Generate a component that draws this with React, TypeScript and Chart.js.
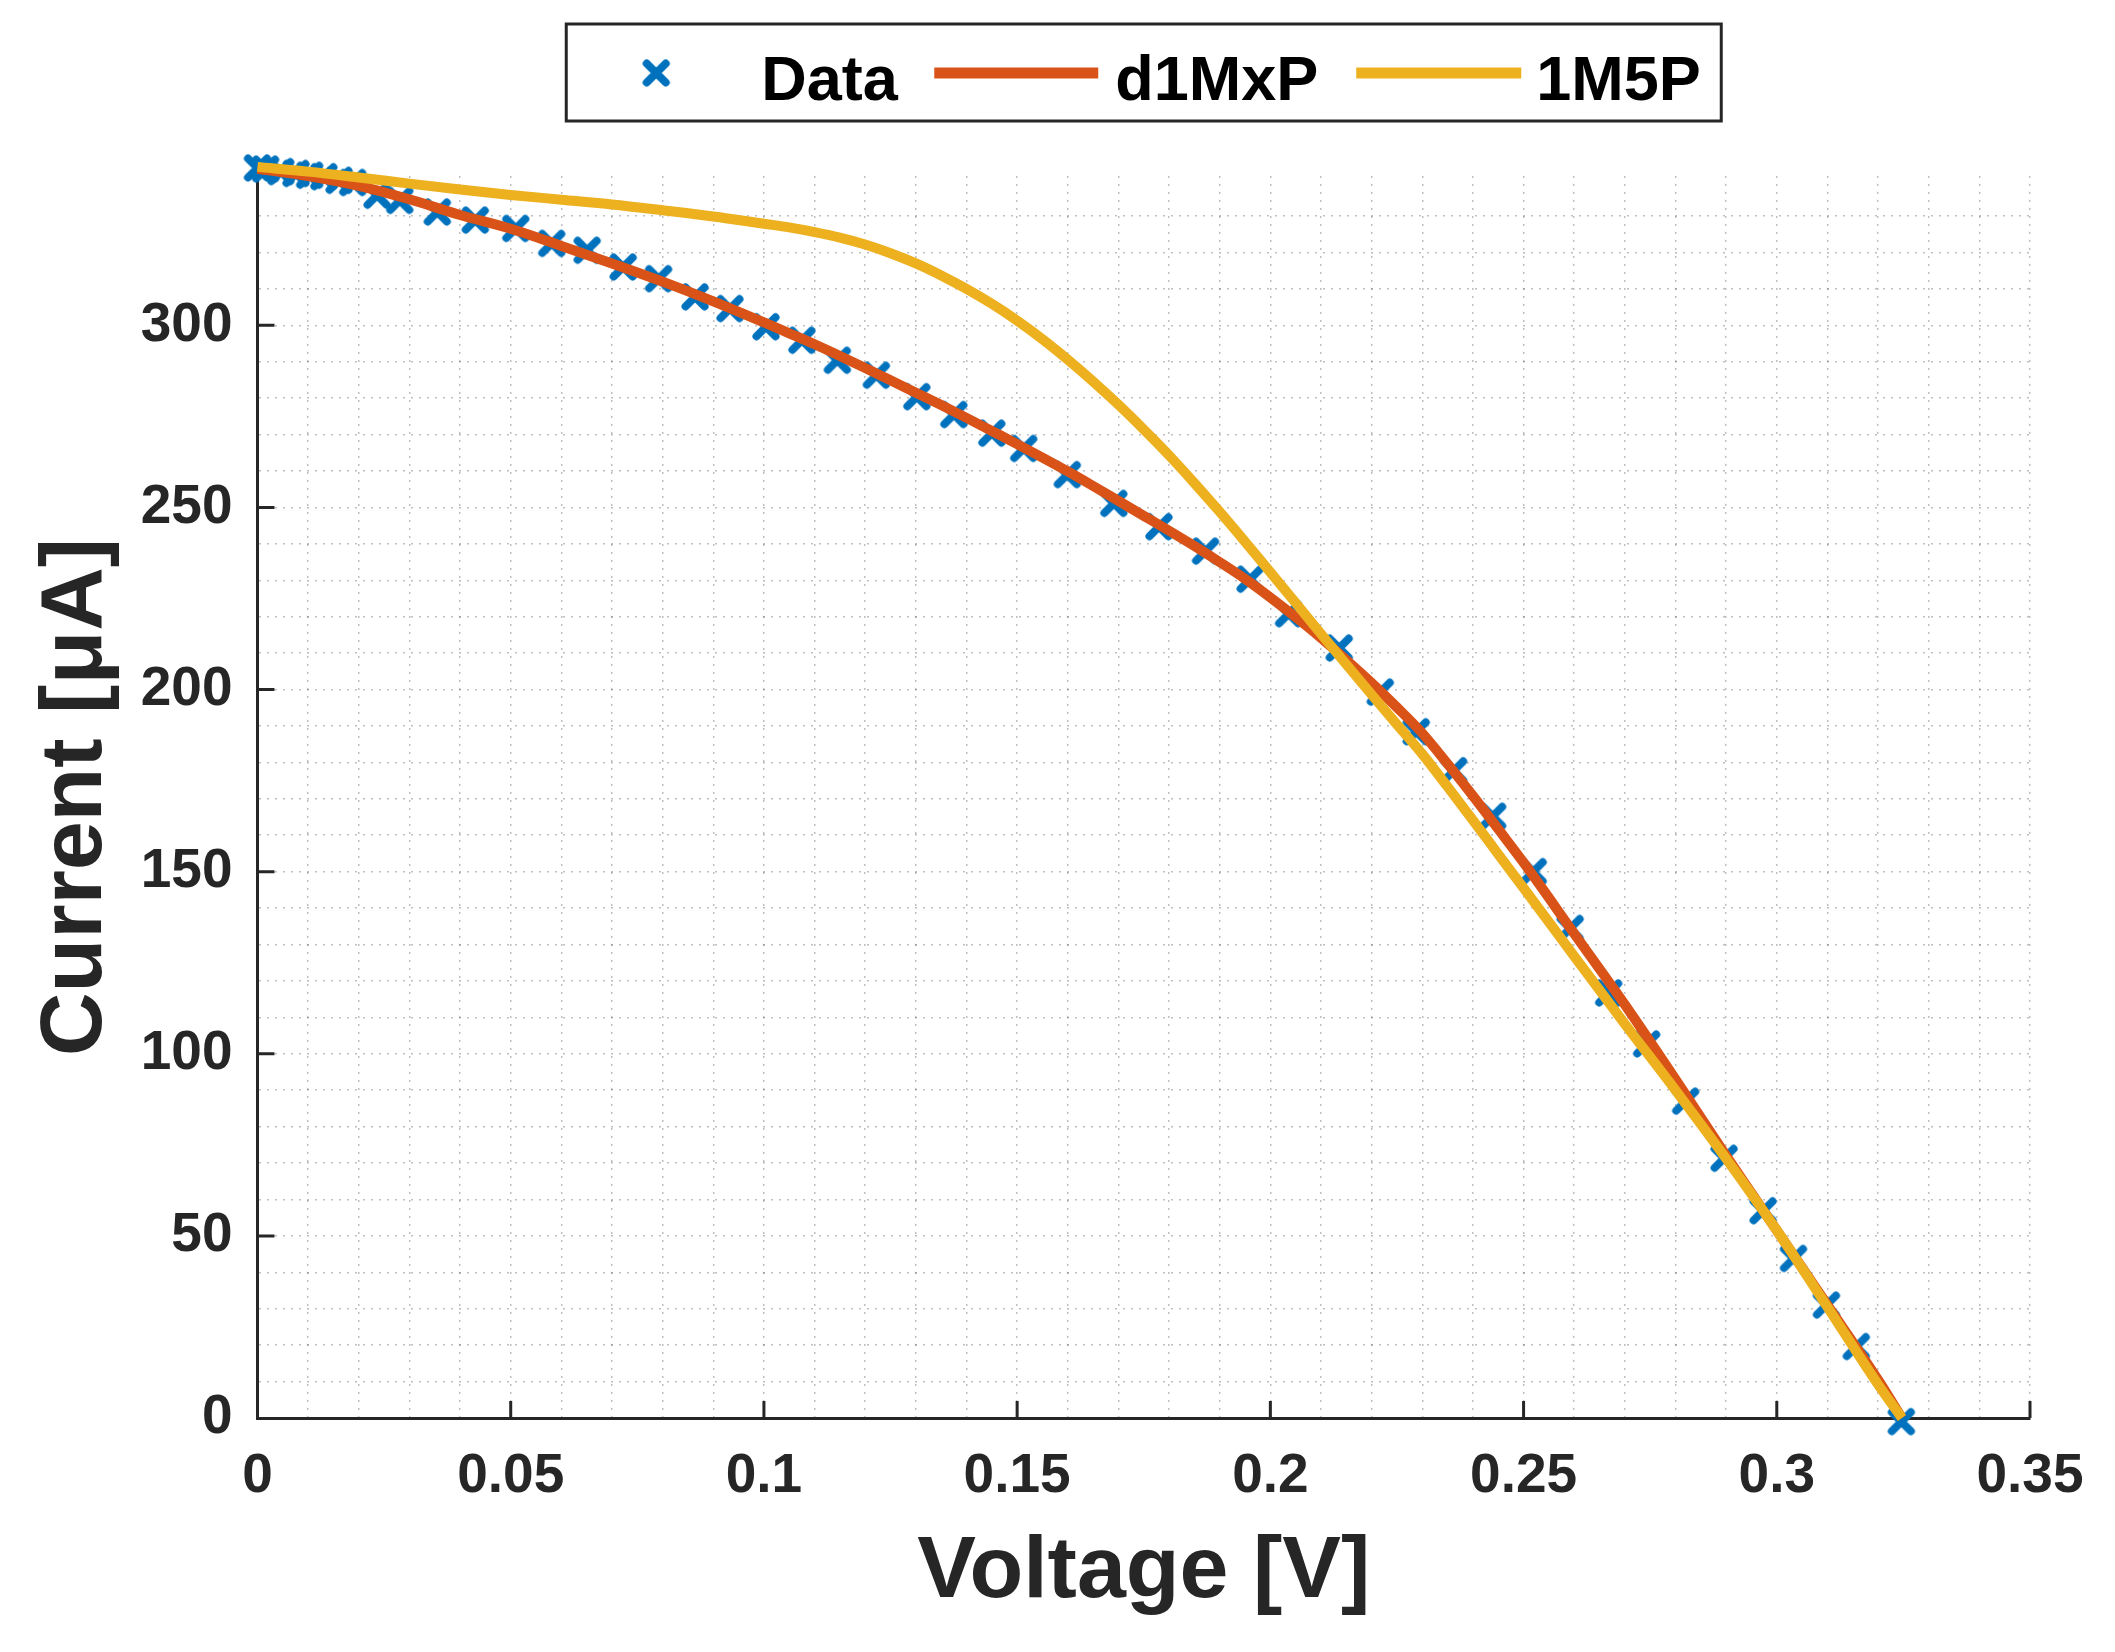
import React, { useEffect, useRef } from 'react'
import { Chart, registerables } from 'chart.js'

Chart.register(...registerables)

// measured I-V points (V, uA)
const DATA_V = [
  0, 0.0016, 0.0046, 0.0076, 0.0103, 0.0131, 0.0161, 0.0188, 0.0236, 0.0281,
  0.0355, 0.043, 0.051, 0.0581, 0.0651, 0.0722, 0.0792, 0.0864, 0.0933, 0.1004,
  0.1075, 0.1145, 0.1222, 0.1302, 0.1375, 0.145, 0.1513, 0.1599, 0.1691, 0.178,
  0.1872, 0.196, 0.2036, 0.2136, 0.2217, 0.2288, 0.2362, 0.2439, 0.2519, 0.2592,
  0.2668, 0.2743, 0.282, 0.2896, 0.2973, 0.3033, 0.3098, 0.3157, 0.3246,
]
const DATA_I = [
  343.2, 342.9, 342.2, 341.7, 341.2, 340.8, 339.8, 339.2, 335.7, 334.3,
  331.1, 328.9, 326.6, 322.5, 320.6, 316.0, 312.8, 307.8, 304.6, 299.6,
  295.9, 290.4, 286.3, 280.4, 275.5, 270.4, 266.2, 259.0, 251.1, 244.7,
  238.0, 230.3, 220.8, 211.4, 199.3, 188.4, 177.7, 165.2, 150.0, 134.4,
  116.7, 102.7, 87.0, 71.3, 56.9, 43.8, 31.0, 19.6, -1.0,
]

// fitted curves, read at the same voltages
const FIT_V = [
  0, 0.01, 0.02, 0.03, 0.04, 0.05, 0.06, 0.07, 0.08, 0.09, 0.1, 0.105, 0.11, 0.115,
  0.12, 0.125, 0.13, 0.135, 0.14, 0.145, 0.15, 0.155, 0.16, 0.165, 0.17, 0.175,
  0.18, 0.185, 0.19, 0.195, 0.2, 0.205, 0.21, 0.215, 0.22, 0.225, 0.23, 0.235, 0.24,
  0.245, 0.25, 0.26, 0.27, 0.28, 0.29, 0.3, 0.31, 0.32, 0.3247,
]
const D1MXP_I = [
  343.0, 341.0, 338.3, 334.6, 330.3, 326.5, 321.8, 317.0, 312.0, 306.6, 300.8, 297.8, 294.8, 291.6,
  288.3, 284.9, 281.5, 278.1, 274.6, 271.0, 267.4, 263.7, 259.9, 255.9, 251.8, 247.7,
  243.6, 239.4, 235.0, 230.4, 225.3, 219.9, 214.2, 208.1, 201.8, 195.1, 188.0, 179.6, 170.8,
  161.7, 152.5, 133.0, 113.5, 93.0, 72.0, 51.5, 31.0, 10.5, 0,
]
const M5P_I = [
  343.5, 342.2, 340.6, 338.9, 337.3, 335.8, 334.5, 333.2, 331.6, 329.9, 327.9, 326.9, 325.6, 324.1,
  322.2, 319.8, 317.0, 313.7, 310.0, 305.9, 301.3, 296.2, 290.6, 284.6, 278.2, 271.4,
  264.3, 256.7, 248.8, 240.6, 232.2, 223.8, 215.3, 206.9, 198.6, 190.4, 182.3, 173.3, 164.1,
  154.8, 145.5, 126.8, 108.2, 90.0, 71.2, 51.5, 30.5, 9.2, 0,
]

const X_MAJOR = [0, 0.05, 0.1, 0.15, 0.2, 0.25, 0.3, 0.35]
const X_LABELS = ['0', '0.05', '0.1', '0.15', '0.2', '0.25', '0.3', '0.35']
const Y_MAJOR = [0, 50, 100, 150, 200, 250, 300]
const Y_LABELS = ['0', '50', '100', '150', '200', '250', '300']

const FONT = '"Liberation Sans", Arial, Helvetica, sans-serif'
const AXIS = '#262626'
const GRID = 'rgba(60,60,60,0.33)'
const BLUE = '#0072BD'
const RED = '#D95319'
const YELLOW = '#EDB120'

const onStep = (v: number, step: number) => Math.abs(v / step - Math.round(v / step)) < 1e-6
const labelFor = (v: number, major: number[], labels: string[]) => {
  const i = major.findIndex((t) => Math.abs(t - v) < 1e-9)
  return i >= 0 ? labels[i] : ''
}

// thick round-capped "x" like MATLAB's bold marker
const makeCross = (color: string) => {
  const c = document.createElement('canvas')
  c.width = 30
  c.height = 30
  const g = c.getContext('2d')!
  g.strokeStyle = color
  g.lineWidth = 8
  g.lineCap = 'round'
  g.beginPath()
  g.moveTo(5.5, 5.5)
  g.lineTo(24.5, 24.5)
  g.moveTo(24.5, 5.5)
  g.lineTo(5.5, 24.5)
  g.stroke()
  return c
}

// MATLAB-style ticks pointing into the axes
const inwardTicks = {
  id: 'inwardTicks',
  beforeDatasetsDraw(chart: any) {
    const { ctx, chartArea, scales } = chart
    ctx.save()
    ctx.strokeStyle = AXIS
    ctx.lineWidth = 3
    ctx.beginPath()
    X_MAJOR.slice(1).forEach((v) => {
      const x = scales.x.getPixelForValue(v)
      ctx.moveTo(x, chartArea.bottom)
      ctx.lineTo(x, chartArea.bottom - 17)
    })
    Y_MAJOR.slice(1).forEach((v) => {
      const y = scales.y.getPixelForValue(v)
      ctx.moveTo(chartArea.left, y)
      ctx.lineTo(chartArea.left + 17, y)
    })
    ctx.stroke()
    ctx.restore()
  },
}

// boxed horizontal legend above the axes
const boxLegend = {
  id: 'boxLegend',
  afterDraw(chart: any) {
    const { ctx, chartArea } = chart
    const ds = chart.data.datasets
    const w = 1155
    const h = 97
    const top = 24
    const left = (chartArea.left + chartArea.right) / 2 - w / 2
    const midY = top + 49
    ctx.save()
    ctx.fillStyle = '#fff'
    ctx.fillRect(left, top, w, h)
    ctx.strokeStyle = AXIS
    ctx.lineWidth = 3
    ctx.strokeRect(left, top, w, h)

    const marker = ds[0].pointStyle
    ctx.drawImage(marker, left + 90 - marker.width / 2, midY - marker.height / 2)

    const lines = [
      [368, 532, ds[1].borderColor],
      [790, 955, ds[2].borderColor],
    ] as const
    ctx.lineWidth = 11
    lines.forEach(([a, b, c]) => {
      ctx.strokeStyle = c
      ctx.beginPath()
      ctx.moveTo(left + a, midY)
      ctx.lineTo(left + b, midY)
      ctx.stroke()
    })

    ctx.fillStyle = '#000'
    ctx.font = `bold 63px ${FONT}`
    ctx.textBaseline = 'alphabetic'
    ctx.textAlign = 'left'
    const textX = [195, 549, 970]
    ds.forEach((d: any, i: number) => ctx.fillText(d.label, left + textX[i], top + 76))
    ctx.restore()
  },
}

const IVChart: React.FC = () => {
  const ref = useRef<HTMLCanvasElement | null>(null)

  useEffect(() => {
    if (!ref.current) return
    const cross = makeCross(BLUE)
    const chart = new Chart(ref.current, {
      type: 'scatter',
      data: {
        datasets: [
          {
            label: 'Data',
            data: DATA_V.map((v, i) => ({ x: v, y: DATA_I[i] })),
            showLine: false,
            pointStyle: cross,
            pointRadius: 15,
            borderColor: BLUE,
            backgroundColor: BLUE,
            order: 2,
            clip: false,
          },
          {
            label: 'd1MxP',
            data: FIT_V.map((v, i) => ({ x: v, y: D1MXP_I[i] })),
            showLine: true,
            pointRadius: 0,
            borderWidth: 10,
            borderColor: RED,
            backgroundColor: RED,
            cubicInterpolationMode: 'monotone',
            order: 1,
            clip: false,
          },
          {
            label: '1M5P',
            data: FIT_V.map((v, i) => ({ x: v, y: M5P_I[i] })),
            showLine: true,
            pointRadius: 0,
            borderWidth: 10,
            borderColor: YELLOW,
            backgroundColor: YELLOW,
            cubicInterpolationMode: 'monotone',
            order: 0,
            clip: false,
          },
        ],
      } as any,
      options: {
        animation: false,
        responsive: false,
        devicePixelRatio: 1,
        layout: { padding: { top: 176, right: 85, left: 0, bottom: 0 } },
        plugins: { legend: { display: false }, tooltip: { enabled: false } },
        scales: {
          x: {
            type: 'linear',
            min: 0,
            max: 0.35,
            afterFit: (s: any) => {
              s.height = 234
            },
            border: { display: true, color: AXIS, width: 3, dash: [2, 6] },
            grid: {
              color: (c: any) => (c.tick && onStep(c.tick.value, 0.01) ? GRID : 'rgba(0,0,0,0)'),
              lineWidth: 1.5,
              drawTicks: false,
            },
            ticks: {
              stepSize: 0.01,
              autoSkip: false,
              maxRotation: 0,
              padding: 26,
              color: AXIS,
              font: { family: FONT, size: 55, weight: 'bold' },
              callback: (v: any) => labelFor(Number(v), X_MAJOR, X_LABELS),
            },
            title: {
              display: true,
              text: 'Voltage [V]',
              color: AXIS,
              font: { family: FONT, size: 88, weight: 'bold' },
              padding: { top: 0, bottom: 26 },
            },
          },
          y: {
            type: 'linear',
            min: 0,
            max: 341,
            afterFit: (s: any) => {
              s.width = 257.5
            },
            border: { display: true, color: AXIS, width: 3, dash: [2, 6] },
            grid: {
              color: (c: any) => (c.tick && onStep(c.tick.value, 10) ? GRID : 'rgba(0,0,0,0)'),
              lineWidth: 1.5,
              drawTicks: false,
            },
            ticks: {
              stepSize: 10,
              autoSkip: false,
              padding: 25,
              color: AXIS,
              font: { family: FONT, size: 55, weight: 'bold' },
              callback: (v: any) => labelFor(Number(v), Y_MAJOR, Y_LABELS),
            },
            title: {
              display: true,
              text: 'Current [μA]',
              color: AXIS,
              font: { family: FONT, size: 88, weight: 'bold' },
              padding: { top: 24, bottom: 0 },
            },
          },
        },
      } as any,
      plugins: [inwardTicks, boxLegend],
    })
    return () => chart.destroy()
  }, [])

  return <canvas ref={ref} width={2115} height={1652} />
}

export default function App() {
  return (
    <div style={{ position: 'absolute', left: 0, top: 0, width: 2115, height: 1652, background: '#fff' }}>
      <IVChart />
    </div>
  )
}
